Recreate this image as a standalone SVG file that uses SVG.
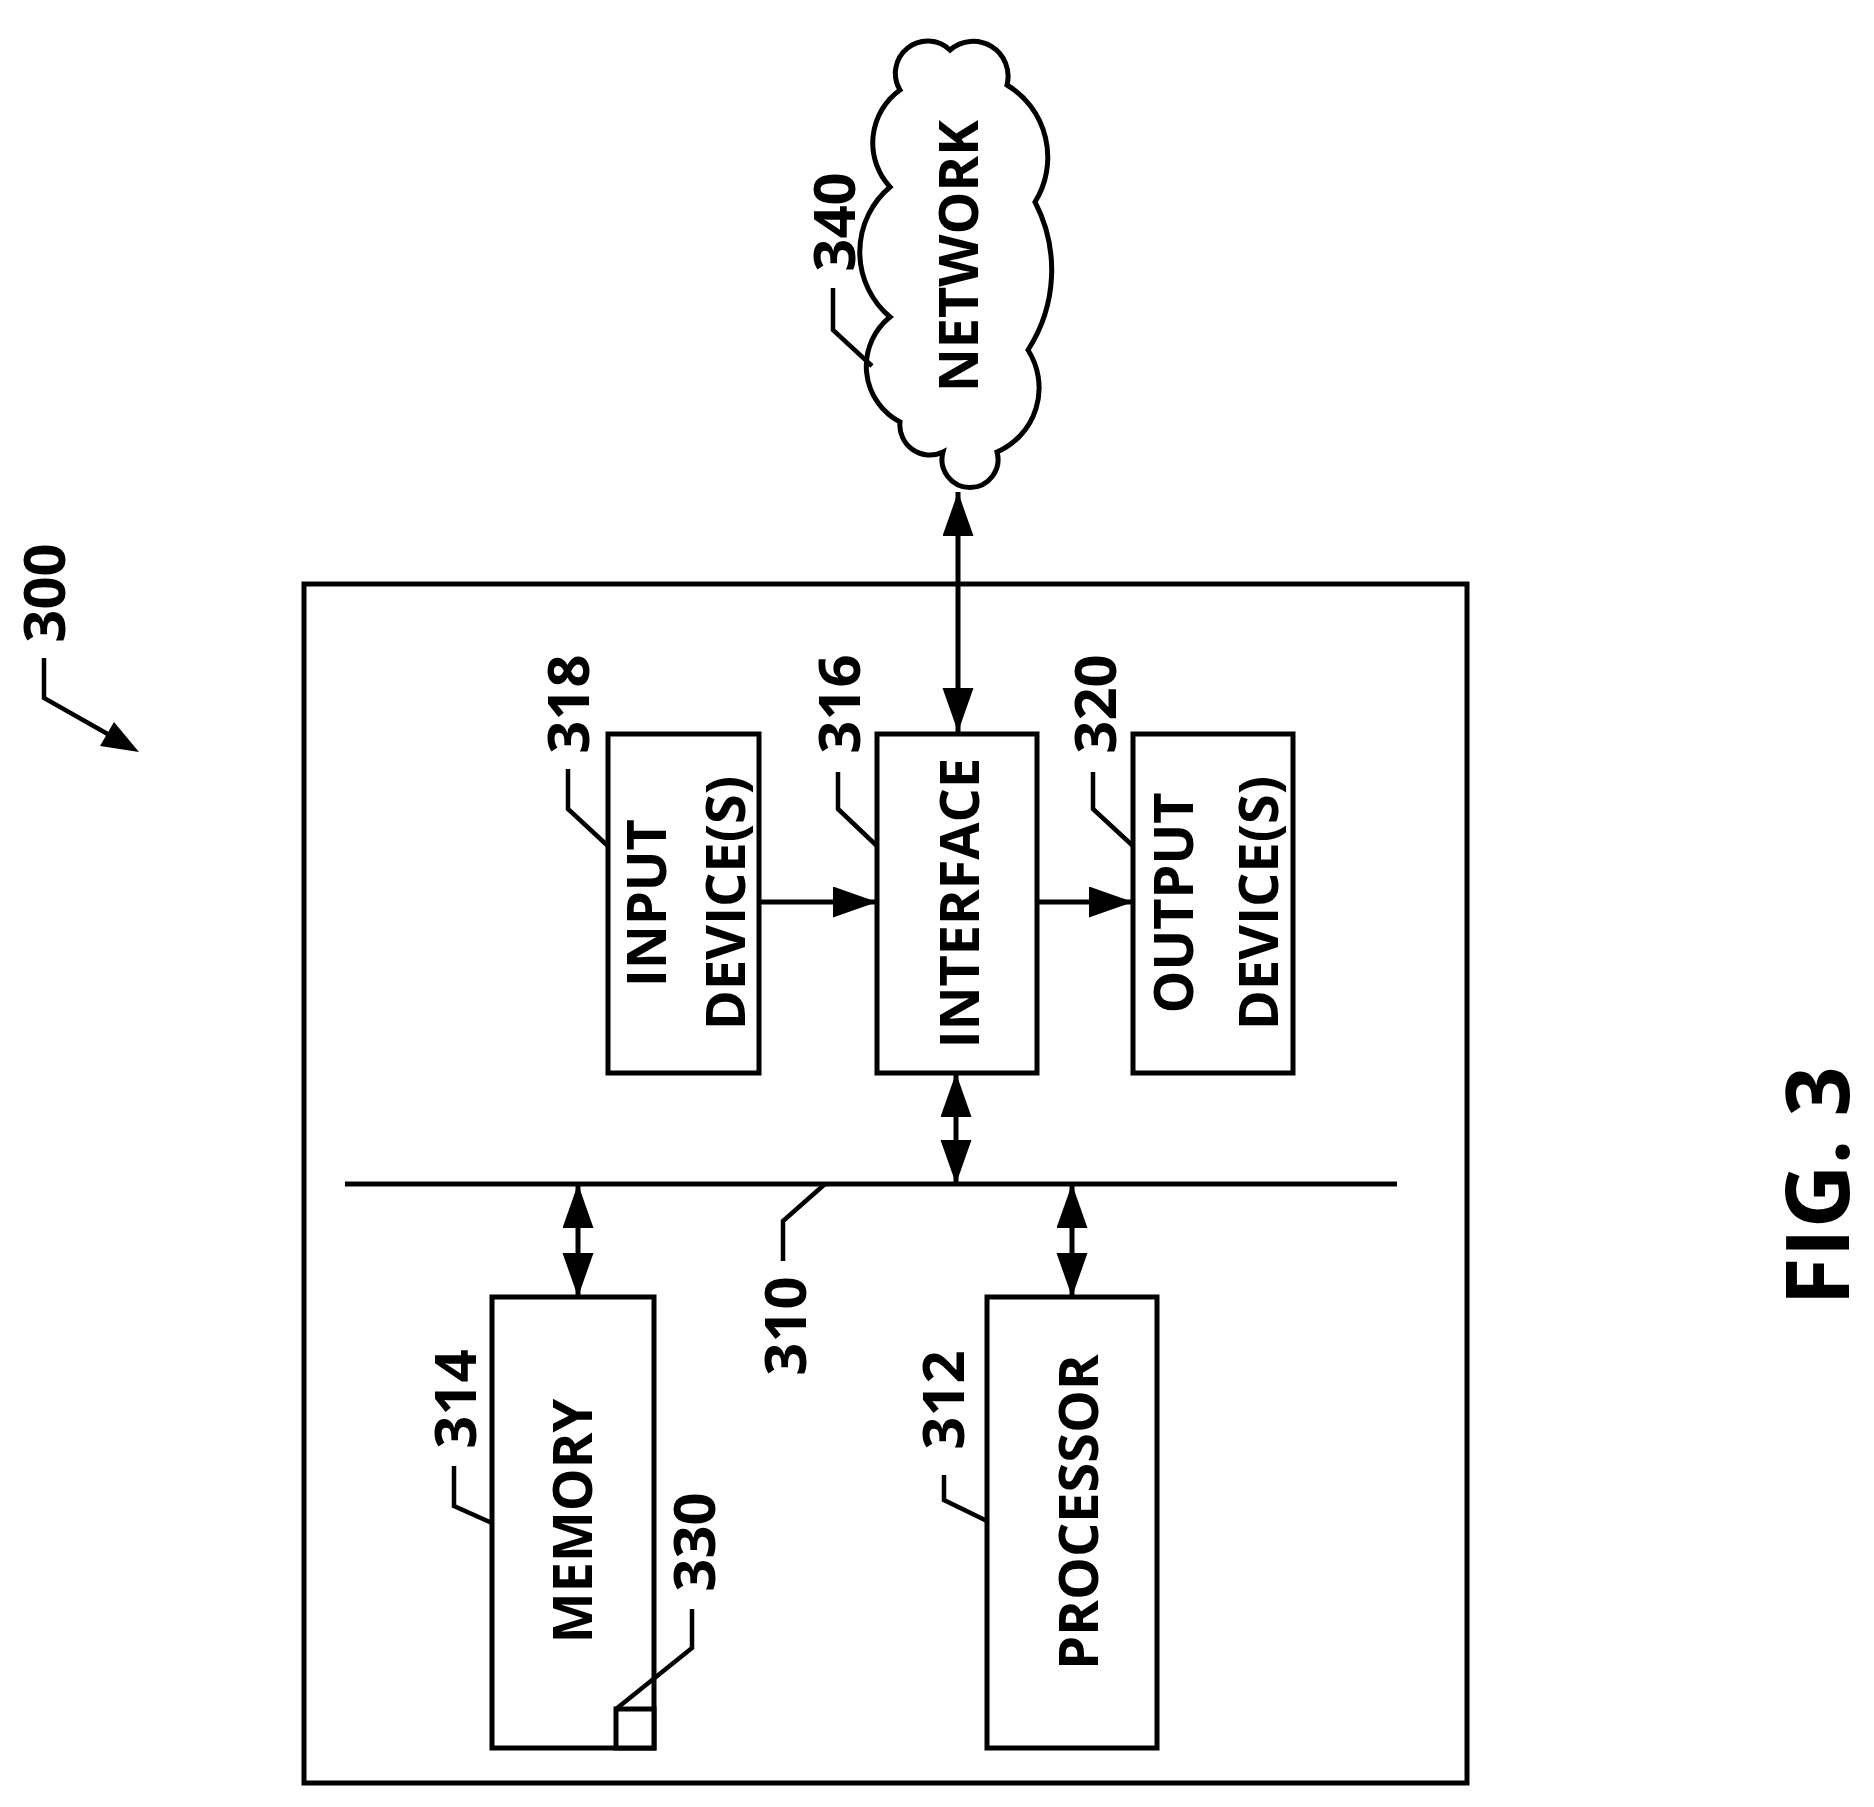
<svg xmlns="http://www.w3.org/2000/svg" width="1874" height="1807" viewBox="0 0 1874 1807">
<style>
.b{fill:#fff;stroke:#000;stroke-width:5}
.l{fill:none;stroke:#000;stroke-width:4.5}
.a{fill:none;stroke:#000;stroke-width:5}
.t{font-family:"Open Sans","Liberation Sans",sans-serif;font-weight:bold;font-size:54px;text-anchor:middle;dominant-baseline:central}
.n{font-size:58px}
</style>
<defs>
<marker id="ah" markerUnits="userSpaceOnUse" markerWidth="46" markerHeight="32" refX="44" refY="15.5" orient="auto-start-reverse"><path d="M0,0 L44,15.5 L0,31 z" fill="#000"/></marker>
</defs>
<rect width="1874" height="1807" fill="#fff"/>
<g id="system300">
<rect class="b" x="304" y="584" width="1163" height="1199" fill="none"/>
<text class="t n" transform="translate(42,593) rotate(-90)">300</text>
<polyline class="l" points="44,658 44,698 120,741"/>
<path d="M139,752 L100,746 L114,722 z" fill="#000"/>
</g>
<g id="connectors">
<line class="a" x1="958" y1="492" x2="958" y2="732" marker-start="url(#ah)" marker-end="url(#ah)"/>
<line class="a" x1="759" y1="902" x2="877" y2="902" marker-end="url(#ah)"/>
<line class="a" x1="1037" y1="902" x2="1133" y2="902" marker-end="url(#ah)"/>
<line class="a" x1="956" y1="1073" x2="956" y2="1184" marker-start="url(#ah)" marker-end="url(#ah)"/>
<line class="a" x1="578" y1="1184" x2="578" y2="1297" marker-start="url(#ah)" marker-end="url(#ah)"/>
<line class="a" x1="1072" y1="1184" x2="1072" y2="1297" marker-start="url(#ah)" marker-end="url(#ah)"/>
</g>
<g id="bus310">
<line class="a" x1="345" y1="1184" x2="1397" y2="1184"/>
<polyline class="l" points="825,1184 783,1221 783,1261"/>
<text class="t n" transform="translate(783,1326) rotate(-90)">310</text>
</g>
<g id="network340">
<path class="b" d="M950,50 A35,35 0 0 1 1007,85 A84.5,84.5 0 0 1 1035,202 A147,147 0 0 1 1028,350 A70,70 0 0 1 997,452 A28,28 0 1 1 943,452 A30,30 0 0 1 900,422 A63,63 0 0 1 890,317 A85,85 0 0 1 890,187 A65,65 0 0 1 900,90 A32.3,32.3 0 0 1 950,50 z"/>
<text class="t" transform="translate(957,256) rotate(-90)">NETWORK</text>
<polyline class="l" points="833,288 833,330 872,366"/>
<text class="t n" transform="translate(832,222) rotate(-90)">340</text>
</g>
<g id="input318">
<rect class="b" x="608" y="734" width="151" height="339"/>
<text class="t" transform="translate(645,903) rotate(-90)">INPUT</text>
<text class="t" transform="translate(724,903) rotate(-90)">DEVICE(S)</text>
<polyline class="l" points="568,769 568,809 608,846"/>
<text class="t n" transform="translate(566,704) rotate(-90)">318</text>
</g>
<g id="interface316">
<rect class="b" x="877" y="734" width="160" height="339"/>
<text class="t" transform="translate(958,903) rotate(-90)">INTERFACE</text>
<polyline class="l" points="838,772 838,809 877,846"/>
<text class="t n" transform="translate(837,704) rotate(-90)">316</text>
</g>
<g id="output320">
<rect class="b" x="1133" y="734" width="160" height="339"/>
<text class="t" transform="translate(1172,903) rotate(-90)">OUTPUT</text>
<text class="t" transform="translate(1257,903) rotate(-90)">DEVICE(S)</text>
<polyline class="l" points="1093,772 1093,809 1133,846"/>
<text class="t n" transform="translate(1093,704) rotate(-90)">320</text>
</g>
<g id="memory314">
<rect class="b" x="492" y="1297" width="162" height="451"/>
<text class="t" transform="translate(571,1521) rotate(-90)">MEMORY</text>
<polyline class="l" points="454,1466 454,1506 492,1523"/>
<text class="t n" transform="translate(453,1399) rotate(-90)">314</text>
</g>
<g id="item330">
<rect class="b" x="616" y="1709" width="38" height="39"/>
<polyline class="l" points="616,1709 692,1648 692,1609"/>
<text class="t n" transform="translate(692,1542) rotate(-90)">330</text>
</g>
<g id="processor312">
<rect class="b" x="987" y="1297" width="170" height="451"/>
<text class="t" transform="translate(1077,1512) rotate(-90)">PROCESSOR</text>
<polyline class="l" points="944,1475 944,1500 987,1521"/>
<text class="t n" transform="translate(941,1400) rotate(-90)">312</text>
</g>
<text class="t" style="font-size:88px" transform="translate(1815,1186) rotate(-90)">FIG. 3</text>
</svg>
